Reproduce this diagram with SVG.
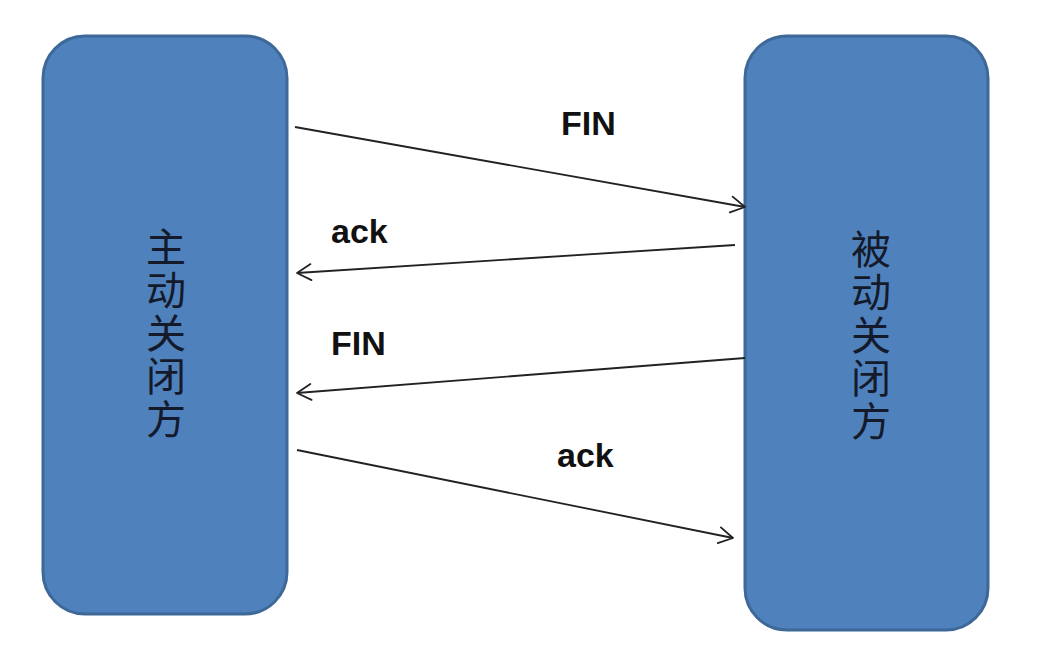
<svg xmlns="http://www.w3.org/2000/svg" width="1038" height="666" viewBox="0 0 1038 666">
<defs>
<style>
.box{fill:#4f81bd;stroke:#3d6897;stroke-width:3}
.cn{font-family:"Noto Sans CJK SC","Noto Sans CJK JP",sans-serif;font-size:40px;fill:#141a2a;writing-mode:vertical-rl;letter-spacing:3px}
.lbl{font-family:"Liberation Sans",Arial,sans-serif;font-weight:bold;font-size:34px;fill:#111}
.conn{stroke:#222;stroke-width:1.8;fill:none;marker-end:url(#arr)}
</style>
<marker id="arr" markerUnits="userSpaceOnUse" viewBox="0 0 20 20" refX="18" refY="10" markerWidth="20" markerHeight="20" orient="auto">
<path d="M4,2 L18,10 L4,18" fill="none" stroke="#222" stroke-width="1.8" stroke-linecap="round" stroke-linejoin="round"/>
</marker>
</defs>
<rect width="1038" height="666" fill="#fff"/>
<g id="node-active">
<rect class="box" x="43" y="36" width="244" height="578" rx="42" ry="42"/>
<text class="cn" x="166" y="227">主动关闭方</text>
</g>
<g id="node-passive">
<rect class="box" x="745" y="36" width="243" height="594" rx="42" ry="42"/>
<text class="cn" x="871" y="229">被动关闭方</text>
</g>
<g id="connectors">
<line class="conn" x1="295" y1="127" x2="745" y2="207"/>
<line class="conn" x1="735" y1="245" x2="297" y2="273"/>
<line class="conn" x1="745" y1="358" x2="297" y2="393"/>
<line class="conn" x1="297" y1="450" x2="733" y2="538"/>
<text class="lbl" x="561" y="135">FIN</text>
<text class="lbl" x="331" y="243">ack</text>
<text class="lbl" x="331" y="355">FIN</text>
<text class="lbl" x="557" y="467">ack</text>
</g>
</svg>
